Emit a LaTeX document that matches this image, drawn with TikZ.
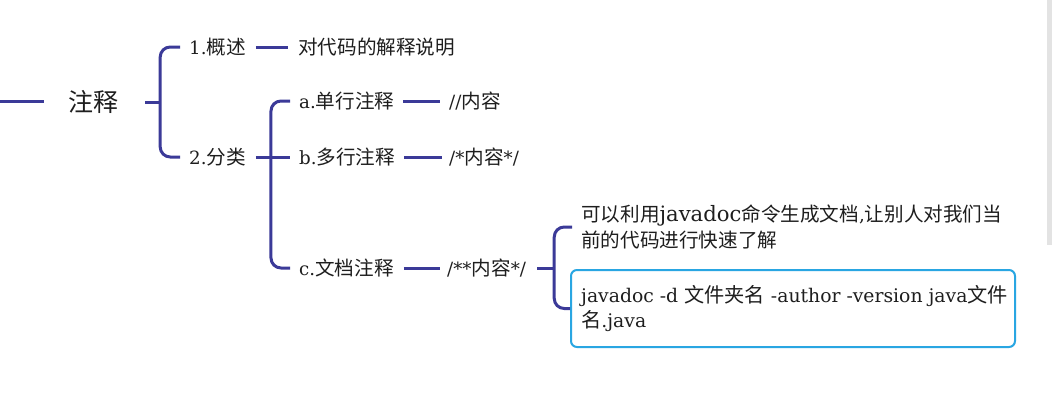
\documentclass[tikz,border=0pt]{standalone}
\usepackage{fontspec}
\setmainfont{DejaVu Serif}[Scale=0.93]
\newfontfamily\cjk{Noto Sans CJK SC}
\newfontfamily\widelat{DejaVu Serif}[Scale=1.08]
\newcommand{\zh}[1]{{\cjk #1}}
\definecolor{linec}{HTML}{3B3A98}
\definecolor{boxc}{HTML}{29A6E2}
\definecolor{txt}{HTML}{1E1E1E}
\definecolor{scroll}{HTML}{E3E3E3}
\begin{document}
\begin{tikzpicture}[x=1pt,y=-1pt,
  conn/.style={draw=linec,line width=3pt,rounded corners=10pt},
  lbl/.style={anchor=west,inner sep=0pt,text=txt,font=\fontsize{19.6}{26}\selectfont},
  big/.style={inner sep=0pt,text=txt,font=\fontsize{25}{28}\selectfont},
  bx/.style={draw=boxc,line width=2pt,rounded corners=6pt,anchor=west,inner sep=0pt,
    minimum height=77pt,minimum width=444pt}]
\useasboundingbox[fill=white] (0,0) rectangle (1052,410);
\fill[scroll] (1047,0) rectangle (1052,245);

\node[big] (root) at (93,102) {\zh{注释}};
\node[lbl] (n1) at (189,47) {1.\zh{概述}};
\node[lbl] (n1d) at (298,47) {\zh{对代码的解释说明}};
\node[lbl] (n2) at (189,157) {2.\zh{分类}};
\node[lbl] (a) at (299,101) {a.\zh{单行注释}};
\node[lbl] (ad) at (449,101) {//\zh{内容}};
\node[lbl] (b) at (299,157) {b.\zh{多行注释}};
\node[lbl] (bd) at (449,157) {/*\zh{内容}*/};
\node[lbl] (c) at (299,268) {c.\zh{文档注释}};
\node[lbl] (cd) at (447,268) {/**\zh{内容}*/};
\node[lbl,align=left] (t1) at (581,227) {\zh{可以利用}{\widelat javadoc}\zh{命令生成文档},\zh{让别人对我们当}\\\zh{前的代码进行快速了解}};
\node[bx] (box) at (570,308.5) {};
\node[lbl,align=left,font=\fontsize{20.2}{25.5}\selectfont] (boxt) at ([xshift=11pt]box.west) {javadoc -d \zh{文件夹名} -author -version java\zh{文件}\\\zh{名}.java};

\coordinate (left) at (0,101);
\coordinate (leftend) at (44,101);
\draw[conn] (left) -- (leftend);

\draw[conn] ([xshift=27pt]root.east) -- ++(15,0);
\draw[conn] ([xshift=-9pt]n1.west) -| ([xshift=42pt]root.east) |- ([xshift=-9pt]n2.west);
\draw[conn] ([xshift=10pt]n1.east) -- ([xshift=-10pt]n1d.west);

\draw[conn] ([xshift=10pt]n2.east) -- ([xshift=-9pt]b.west);
\draw[conn] ([xshift=-9pt]a.west) -| ([xshift=25pt]n2.east) |- ([xshift=-9pt]c.west);

\draw[conn] ([xshift=9pt]a.east) -- ([xshift=-9pt]ad.west);
\draw[conn] ([xshift=9pt]b.east) -- ([xshift=-7pt]bd.west);
\draw[conn] ([xshift=10pt]c.east) -- ([xshift=-7pt]cd.west);

\coordinate (j3) at ([xshift=28pt]cd.east);
\draw[conn] ([xshift=11pt]cd.east) -- (j3);
\draw[conn] ([xshift=-9pt]t1.west) -| (j3) |- (box.west);
\end{tikzpicture}
\end{document}
